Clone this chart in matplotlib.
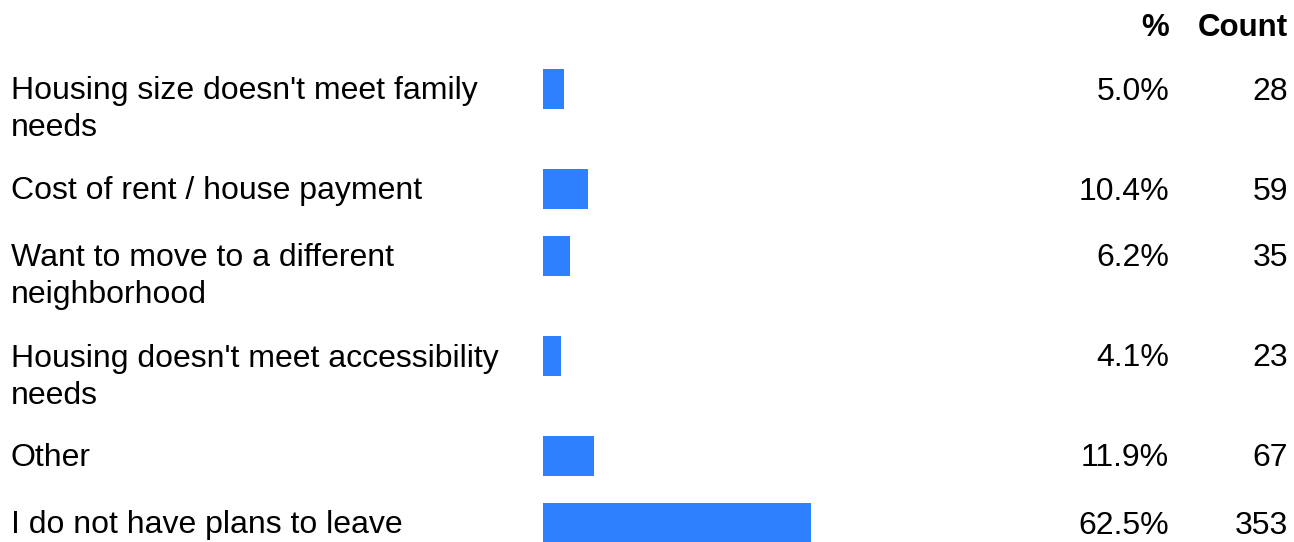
import matplotlib.pyplot as plt

plt.rcParams['font.family'] = ['Liberation Sans', 'DejaVu Sans']

labels = [
    "Housing size doesn't meet family\nneeds",
    "Cost of rent / house payment",
    "Want to move to a different\nneighborhood",
    "Housing doesn't meet accessibility\nneeds",
    "Other",
    "I do not have plans to leave",
]
percents = [5.0, 10.4, 6.2, 4.1, 11.9, 62.5]
counts = [28, 59, 35, 23, 67, 353]

W, H = 1294, 542
BAR_COLOR = '#2f80ff'
FS = 23
LINE = 37  # px between wrapped lines

fig = plt.figure(figsize=(W / 100, H / 100), dpi=100)

# text layer in pixel coords (y down)
ax = fig.add_axes([0, 0, 1, 1])
ax.set_xlim(0, W)
ax.set_ylim(H, 0)
ax.axis('off')

# bar layer: x in percent
bx0, bw = 543, 429
bax = fig.add_axes([bx0 / W, 0, bw / W, 1])
bax.set_xlim(0, 100)
bax.set_ylim(H, 0)
bax.axis('off')

# row positions: first row at 89, 67 px per row + 33 px per extra wrapped line
ys = []
y = 89
for lab in labels:
    ys.append(y)
    y += 67 + 33 * (lab.count('\n'))

bax.barh(ys, percents, height=40, left=0, color=BAR_COLOR)

for yy, lab, p, c in zip(ys, labels, percents, counts):
    for i, line in enumerate(lab.split('\n')):
        ax.text(11, yy - 1 + i * LINE, line, fontsize=FS, va='center_baseline', ha='left')
    ax.text(1169, yy - 1, f"{p:.1f}%", fontsize=FS, va='center_baseline', ha='right')
    ax.text(1288, yy - 1, f"{c}", fontsize=FS, va='center_baseline', ha='right')

ax.text(1169, 24, "%", fontsize=22.5, fontweight='bold', va='center_baseline', ha='right')
ax.text(1288, 24, "Count", fontsize=22.5, fontweight='bold', va='center_baseline', ha='right')

fig.savefig('out.png', dpi=100)
